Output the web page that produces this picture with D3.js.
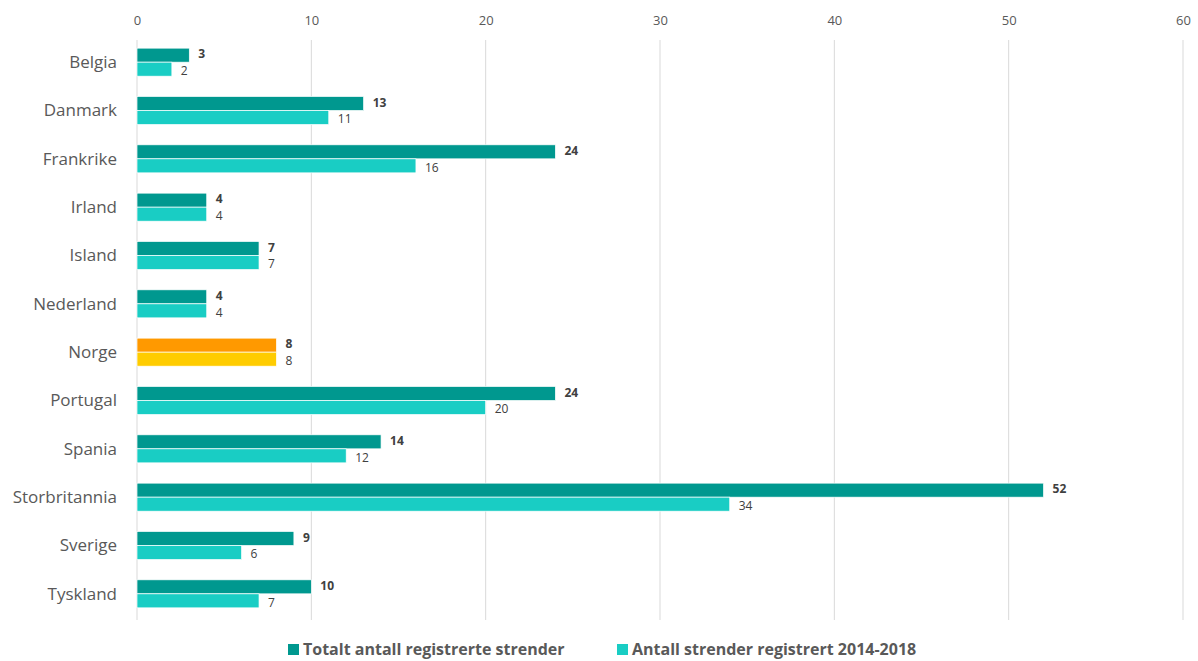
<!DOCTYPE html>
<html>
<head>
<meta charset="utf-8">
<script src="https://cdn.jsdelivr.net/npm/d3@7"></script>
<style>
  body { margin: 0; background: #fff; }
  svg { display: block; font-family: "Open Sans", sans-serif; }
</style>
</head>
<body>
<svg id="chart"></svg>
<script>
var width = 1198,
    height = 661;

// data
var countries = ["Belgia", "Danmark", "Frankrike", "Irland", "Island", "Nederland",
                 "Norge", "Portugal", "Spania", "Storbritannia", "Sverige", "Tyskland"];
var totalt = [3, 13, 24, 4, 7, 4, 8, 24, 14, 52, 9, 10];
var periode = [2, 11, 16, 4, 7, 4, 8, 20, 12, 34, 6, 7];
var seriesNames = ["Totalt antall registrerte strender", "Antall strender registrert 2014-2018"];
var xTicks = [0, 10, 20, 30, 40, 50, 60];

var colors = ["#00988f", "#19cdc4"],
    highlight = ["#ff9900", "#ffcc00"];

var svg = d3.select("#chart").attr("width", width).attr("height", height);

var x = d3.scaleLinear().domain([0, 60]).range([137, 1183]);
var y = d3.scaleBand().domain(countries).range([38, 618])
    .paddingInner(0.42).paddingOuter(0.21);
var ySub = d3.scaleBand().domain([0, 1]).range([0, y.bandwidth()]);

// gridlines
svg.append("g").selectAll("line")
    .data(xTicks)
    .enter().append("line")
    .attr("x1", function(d) { return x(d); })
    .attr("x2", function(d) { return x(d); })
    .attr("y1", 40)
    .attr("y2", 620)
    .attr("stroke", "#d9d9d9")
    .attr("stroke-width", 1);

// top axis
var xAxis = d3.axisTop(x).tickValues(xTicks).tickSize(0).tickPadding(0);
svg.append("g")
    .attr("transform", "translate(0,25)")
    .call(xAxis)
    .call(function(g) {
        g.select(".domain").remove();
        g.selectAll("text")
            .attr("fill", "#595959")
            .style("font-size", "13px")
            .style("font-family", "'Open Sans', sans-serif");
    });

// category labels
svg.append("g").selectAll("text")
    .data(countries)
    .enter().append("text")
    .attr("x", 117)
    .attr("y", function(d) { return y(d) + y.bandwidth() / 2; })
    .attr("dy", "0.35em")
    .attr("text-anchor", "end")
    .attr("fill", "#595959")
    .style("font-size", "17px")
    .text(function(d) { return d; });

var rows = countries.map(function(c, i) {
    return { country: c, values: [totalt[i], periode[i]] };
});

var groups = svg.append("g").selectAll("g")
    .data(rows)
    .enter().append("g")
    .attr("transform", function(d) { return "translate(0," + y(d.country) + ")"; });

groups.selectAll("rect")
    .data(function(d) { return d.values.map(function(v, j) { return { v: v, j: j, c: d.country }; }); })
    .enter().append("rect")
    .attr("x", x(0))
    .attr("y", function(d) { return ySub(d.j); })
    .attr("width", function(d) { return x(d.v) - x(0); })
    .attr("height", ySub.bandwidth())
    .attr("fill", function(d) { return d.c === "Norge" ? highlight[d.j] : colors[d.j]; })
    .attr("stroke", "#fff")
    .attr("stroke-width", 0.7);

// value labels, nudged apart so the pair does not touch
groups.selectAll("text")
    .data(function(d) { return d.values.map(function(v, j) { return { v: v, j: j }; }); })
    .enter().append("text")
    .attr("x", function(d) { return x(d.v) + 9; })
    .attr("y", function(d) { return ySub(d.j) + ySub.bandwidth() / 2 + (d.j === 0 ? -1 : 1.5); })
    .attr("dy", "0.35em")
    .attr("fill", "#404040")
    .style("font-size", "12px")
    .style("font-weight", function(d) { return d.j === 0 ? "bold" : "normal"; })
    .text(function(d) { return d.v; });

// legend
var legendX = [288, 617];
var legend = svg.append("g").selectAll("g")
    .data(seriesNames)
    .enter().append("g")
    .attr("transform", function(d, i) { return "translate(" + legendX[i] + ",644)"; });

legend.append("rect")
    .attr("width", 11)
    .attr("height", 11)
    .attr("fill", function(d, i) { return colors[i]; });

legend.append("text")
    .attr("x", 15)
    .attr("y", 6)
    .attr("dy", "0.33em")
    .attr("fill", "#595959")
    .style("font-size", "16px")
    .style("font-weight", "bold")
    .text(function(d) { return d; });
</script>
</body>
</html>
